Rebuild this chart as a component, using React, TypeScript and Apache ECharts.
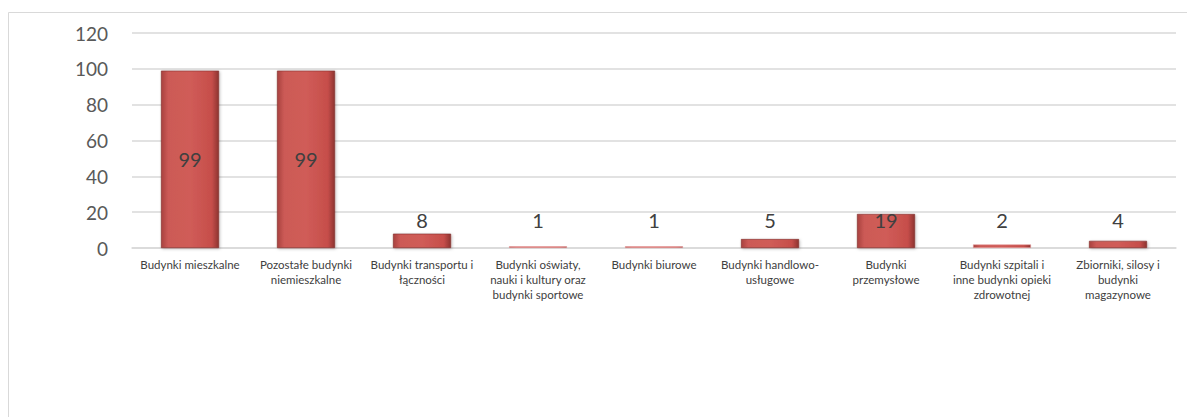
import React, { useEffect, useRef } from "react";
import * as echarts from "echarts";

// Building categories (Polish) with manual line breaks
const categories: string[] = [
  "Budynki mieszkalne",
  "Pozostałe budynki\nniemieszkalne",
  "Budynki transportu i\nłączności",
  "Budynki oświaty,\nnauki i kultury oraz\nbudynki sportowe",
  "Budynki biurowe",
  "Budynki handlowo-\nusługowe",
  "Budynki\nprzemysłowe",
  "Budynki szpitali i\ninne budynki opieki\nzdrowotnej",
  "Zbiorniki, silosy i\nbudynki\nmagazynowe",
];

const values: number[] = [99, 99, 8, 1, 1, 5, 19, 2, 4];

const yMin = 0;
const yMax = 120;
const yStep = 20;

const FONT = "Lato, 'Liberation Sans', sans-serif";

export default function App() {
  const ref = useRef<HTMLDivElement>(null);

  useEffect(() => {
    if (!ref.current) return;
    const chart = echarts.init(ref.current, null, { renderer: "svg" });

    const barFill = new echarts.graphic.LinearGradient(0, 0, 1, 0, [
      { offset: 0, color: "#a8423f" },
      { offset: 0.12, color: "#cc5a56" },
      { offset: 0.5, color: "#d05c58" },
      { offset: 0.88, color: "#c64e4a" },
      { offset: 1, color: "#8e3331" },
    ]);

    chart.setOption({
      animation: false,
      backgroundColor: "#ffffff",
      textStyle: { fontFamily: FONT },
      graphic: [
        {
          type: "rect",
          shape: { x: 0.5, y: 4.5, width: 1400, height: 600 },
          style: { fill: "none", stroke: "#d9d9d9", lineWidth: 1 },
          silent: true,
        },
      ],
      grid: { left: 124, right: 19, top: 25, bottom: 169, containLabel: false },
      xAxis: {
        type: "category",
        data: categories,
        axisLine: { show: true, lineStyle: { color: "#d9d9d9", width: 1.5 } },
        axisTick: { show: false },
        axisLabel: {
          interval: 0,
          color: "#404040",
          fontSize: 11.5,
          lineHeight: 15,
          margin: 9,
          fontFamily: FONT,
        },
      },
      yAxis: {
        type: "value",
        min: yMin,
        max: yMax,
        interval: yStep,
        axisLine: { show: false },
        axisTick: { show: false },
        splitLine: { lineStyle: { color: "#d9d9d9", width: 1.5 } },
        axisLabel: {
          color: "#595959",
          fontSize: 19,
          margin: 24,
          fontFamily: FONT,
        },
      },
      series: [
        {
          type: "bar",
          data: values.map((v) => ({
            value: v,
            label:
              v >= 50
                ? { position: "inside" }
                : { position: "insideBottom", distance: 18 },
            itemStyle:
              v <= 2 ? { borderColor: "#e8a0a0", shadowBlur: 0, shadowOffsetX: 0, shadowOffsetY: 0 } : undefined,
          })),
          barWidth: "50%",
          itemStyle: {
            color: barFill,
            borderColor: "#7d2b29",
            borderWidth: 0.6,
            shadowColor: "rgba(0,0,0,0.25)",
            shadowBlur: 3,
            shadowOffsetX: 1,
            shadowOffsetY: 1,
          },
          label: {
            show: true,
            color: "#404040",
            fontSize: 20,
            fontFamily: FONT,
          },
        },
      ],
    });

    return () => chart.dispose();
  }, []);

  return <div ref={ref} style={{ width: 1187, height: 409 }} />;
}
